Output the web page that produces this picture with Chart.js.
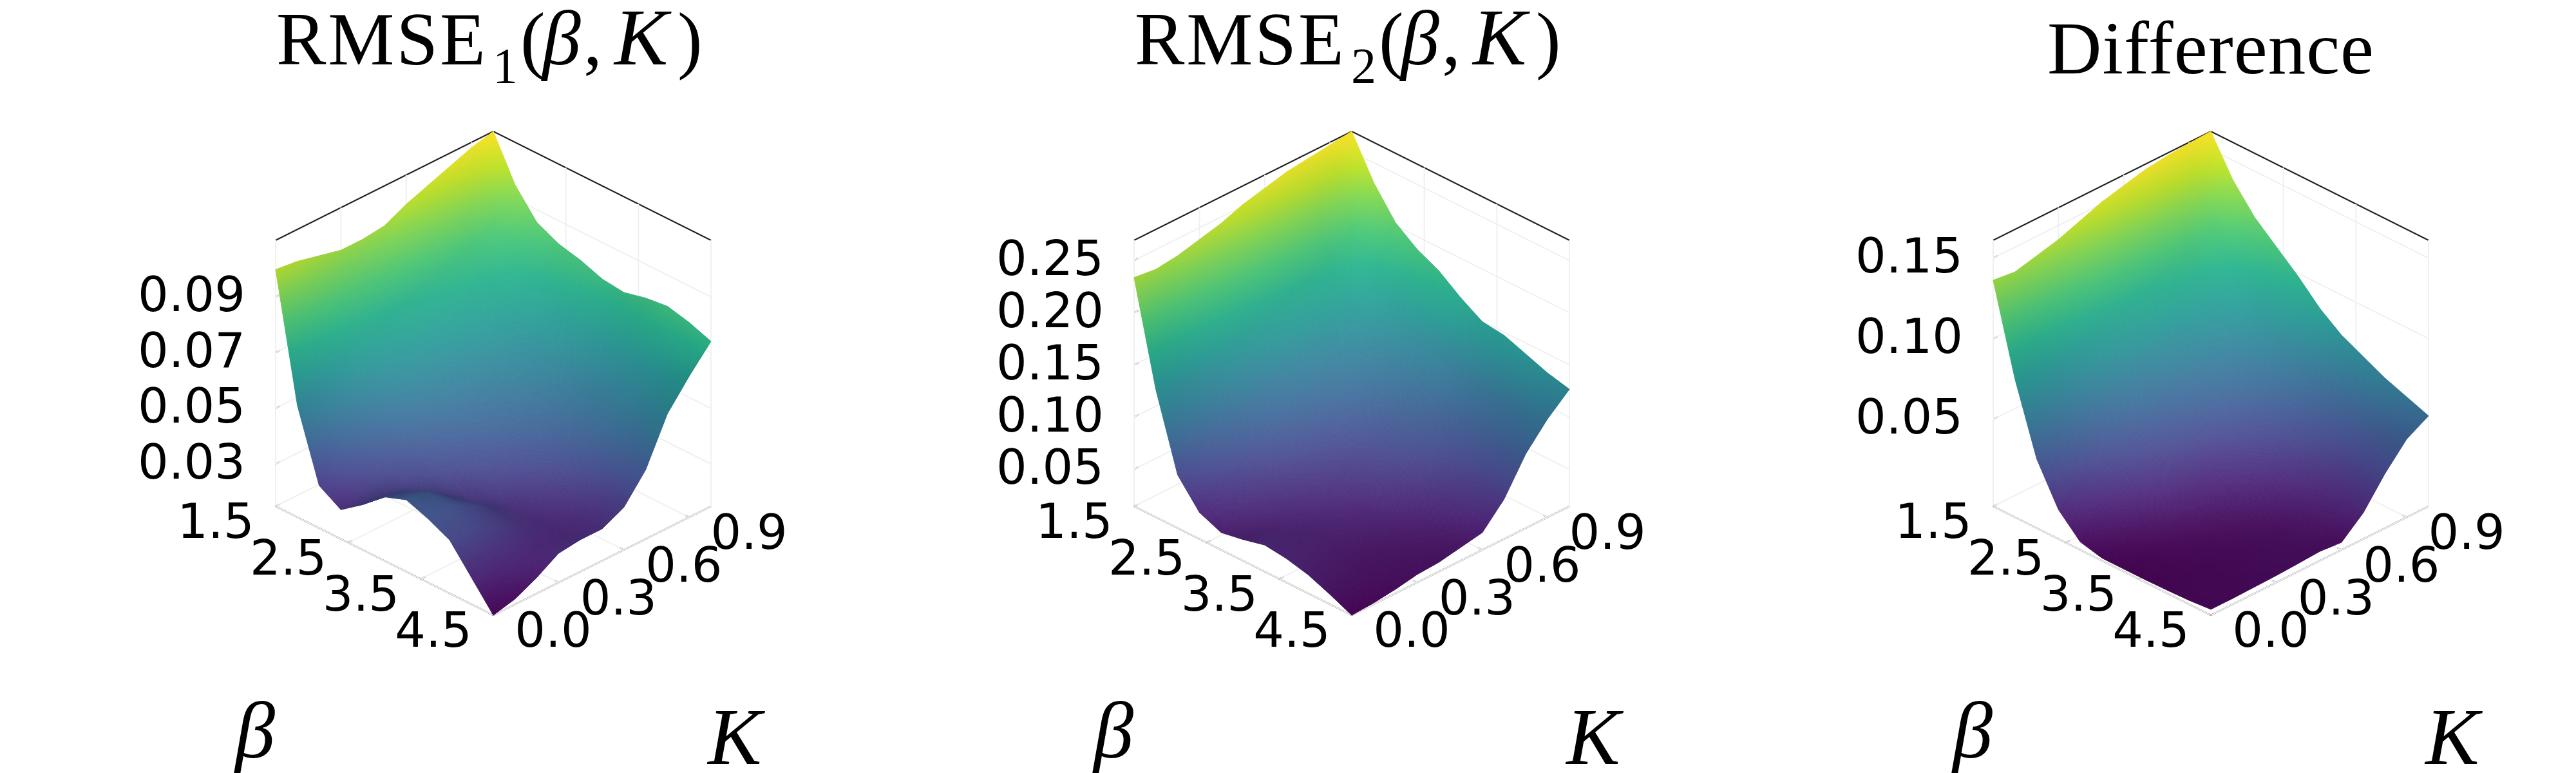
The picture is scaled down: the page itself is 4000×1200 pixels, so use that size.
<!doctype html>
<html lang="en">
<head>
<meta charset="utf-8">
<title>RMSE surfaces</title>
<script src="https://cdn.jsdelivr.net/npm/chart.js"></script>
<style>
  body { margin: 0; background: #fff; }
  canvas { position: absolute; top: 0; }
</style>
</head>
<body>
<canvas id="c0" width="1333" height="1200" style="left:0"></canvas>
<canvas id="c1" width="1333" height="1200" style="left:1333px"></canvas>
<canvas id="c2" width="1333" height="1200" style="left:2667px"></canvas>
<script>
const betaGrid = [1.5, 1.8, 2.1, 2.4, 2.7, 3.0, 3.3, 3.6, 3.9, 4.2, 4.5];
const kGrid = [0, 0.1, 0.2, 0.3, 0.4, 0.5, 0.6, 0.7, 0.8, 0.9, 1.0];
const betaTicks = [1.5, 2.5, 3.5, 4.5];
const kTicks = [0.0, 0.3, 0.6, 0.9];

// rows = beta, columns = K, height in percent of the z box for now
const rmse1 = [
  [89, 88, 86, 84, 84, 85, 89, 92, 95, 98, 100],
  [42, 47, 52, 56, 58, 60, 62, 65, 68, 73, 84],
  [16, 28, 36, 42, 46, 49, 52, 55, 58, 63, 74],
  [11, 17, 24, 31, 36, 40, 43, 47, 51, 57, 70],
  [17, 17, 18, 23, 28, 33, 37, 41, 46, 53, 68],
  [24, 22, 17, 18, 22, 27, 32, 37, 42, 50, 65],
  [27, 26, 20, 14, 17, 21, 27, 33, 39, 47, 64],
  [24, 24, 21, 16, 12, 16, 22, 30, 38, 46, 66],
  [20, 19, 17, 14, 11, 12, 18, 28, 38, 46, 67],
  [10, 10, 10, 10, 10, 11, 15, 26, 38, 48, 65],
  [0, 2, 6, 11, 12, 12, 16, 26, 43, 53, 62]
];
const rmse2 = [
  [86, 85, 86, 88, 90, 93, 95, 97, 98, 99, 100],
  [48, 46, 47, 50, 52, 55, 57, 60, 63, 68, 85],
  [20, 26, 30, 33, 36, 39, 42, 45, 48, 55, 74],
  [10, 15, 19, 23, 27, 30, 33, 37, 42, 50, 68],
  [6.5, 10, 13, 16, 19, 22, 26, 31, 37, 45, 64],
  [8, 8, 9, 11, 14, 17, 22, 28, 34, 41, 58],
  [10, 9, 8, 9, 10, 15, 20, 25, 30, 37, 53],
  [9, 8, 7, 7, 8, 11, 16, 21, 27, 35, 52],
  [7, 6, 5, 5, 6, 8, 12, 18, 26, 35, 49],
  [3.7, 3.5, 3.5, 4, 4.5, 6, 10, 16, 26, 36, 46],
  [0, 0.5, 1.5, 3, 3.5, 5, 6.5, 15, 28, 37, 44]
];
const difference = [
  [85, 84, 86, 88, 91, 94, 96, 98, 99, 99.6, 100],
  [52, 50, 50, 52, 55, 58, 61, 64, 68, 72, 86],
  [26, 29, 32, 35, 38, 41, 44, 47, 51, 58, 76],
  [11, 15, 19, 23, 27, 30, 33, 37, 42, 50, 69],
  [3, 6, 10, 14, 18, 21, 25, 30, 36, 44, 62],
  [1, 2, 4, 7, 10, 12, 17, 23, 30, 38, 54],
  [1, 1, 2, 3, 5, 8, 12, 18, 25, 33, 48],
  [1, 1, 1.5, 2, 3, 5, 8, 14, 21, 30, 44],
  [1.2, 1.5, 1.5, 2, 2.5, 3.5, 6, 11, 19, 28, 40],
  [1.5, 2, 2, 2.5, 3, 3.5, 5, 10, 19, 27, 37],
  [2.2, 2.2, 2.4, 2.6, 3, 3.5, 2.8, 9.8, 20.5, 29.4, 34]
];
const zTicks1 = ['0.03', '0.05', '0.07', '0.09'];
const zTicks2 = ['0.05', '0.10', '0.15', '0.20', '0.25'];
const zTicks3 = ['0.05', '0.10', '0.15'];
const zRange1 = [0.0148, 0.1103];
const zRange2 = [0.0146, 0.2693];
const zRange3 = [-0.004, 0.161];

const viridis = ['#440154', '#482475', '#414487', '#355f8d', '#2a788e', '#21918c', '#22a884', '#44bf70', '#7ad151', '#bddf26', '#fde725'];

// box on screen, px
const CX = 766, YL = 786, W = 338, R = 169, H = 413;

function boxXY(beta, K, t) {
  const b = (beta - 1.5) / 3;
  return { x: b + K - 1, y: t + (K - b) * R / H };
}

function hexRgb(h) {
  return [1, 3, 5].map(i => parseInt(h.substr(i, 2), 16));
}
function colormap(t) {
  t = Math.min(1, Math.max(0, t)) * (viridis.length - 1);
  const i = Math.min(viridis.length - 2, Math.floor(t));
  const a = hexRgb(viridis[i]), c = hexRgb(viridis[i + 1]);
  return a.map((v, n) => v + (c[n] - v) * (t - i));
}

// view space: x right, y up, d toward the viewer (30 deg elevation cube)
const Tb = [W, -R, 0.866 * W], Tk = [W, R, -0.866 * W], Tt = [0, H, 240];
function cross(a, c) {
  return [a[1] * c[2] - a[2] * c[1], a[2] * c[0] - a[0] * c[2], a[0] * c[1] - a[1] * c[0]];
}
function unit(v) {
  const l = Math.hypot(v[0], v[1], v[2]);
  return v.map(n => n / l);
}

class SurfaceController extends Chart.ScatterController {
  draw() {
    const meta = this.getMeta(), ctx = this._ctx, ds = this.getDataset();
    const nb = ds.rows, nk = ds.cols;
    const t = (i, j) => ds.data[i * nk + j].t;
    const el = (i, j) => meta.data[i * nk + j];
    const lo = ds.tMin, hi = ds.tMax;

    // vertex normals from the grid
    const normals = [];
    for (let i = 0; i < nb; i++) {
      for (let j = 0; j < nk; j++) {
        const i0 = Math.max(0, i - 1), i1 = Math.min(nb - 1, i + 1);
        const j0 = Math.max(0, j - 1), j1 = Math.min(nk - 1, j + 1);
        const db = (t(i1, j) - t(i0, j)) / ((i1 - i0) / (nb - 1));
        const dk = (t(i, j1) - t(i, j0)) / ((j1 - j0) / (nk - 1));
        const pb = Tb.map((v, n) => v + db * Tt[n]);
        const pk = Tk.map((v, n) => v + dk * Tt[n]);
        normals.push(unit(cross(pk, pb)));
      }
    }
    const mix = (a, c, d, e, u, v) => (a * (1 - u) + c * u) * (1 - v) + (d * (1 - u) + e * u) * v;
    const span = (p, q) => Math.ceil(Math.hypot(p.x - q.x, p.y - q.y) / 4);

    ctx.save();
    ctx.lineWidth = 1;
    ctx.lineJoin = 'round';
    // back corner (beta min, K max) first, front corner last
    for (let i = 0; i < nb - 1; i++) {
      for (let j = nk - 2; j >= 0; j--) {
        const A = el(i, j), B = el(i + 1, j), C = el(i, j + 1), D = el(i + 1, j + 1);
        const nA = normals[i * nk + j], nB = normals[(i + 1) * nk + j];
        const nC = normals[i * nk + j + 1], nD = normals[(i + 1) * nk + j + 1];
        const stepsU = Math.max(span(A, B), span(C, D)), stepsV = Math.max(span(A, C), span(B, D));
        for (let si = 0; si < stepsU; si++) {
          for (let sj = stepsV - 1; sj >= 0; sj--) {
            const pt = (u, v) => ({
              x: mix(A.x, B.x, C.x, D.x, u, v),
              y: mix(A.y, B.y, C.y, D.y, u, v)
            });
            const u0 = si / stepsU, u1 = (si + 1) / stepsU, v0 = sj / stepsV, v1 = (sj + 1) / stepsV;
            const um = (u0 + u1) / 2, vm = (v0 + v1) / 2;
            const tm = mix(t(i, j), t(i + 1, j), t(i, j + 1), t(i + 1, j + 1), um, vm);
            const n = unit([0, 1, 2].map(q => mix(nA[q], nB[q], nC[q], nD[q], um, vm)));
            const base = colormap((tm - lo) / (hi - lo));
            const mid = pt(um, vm), c = Math.abs(n[2]);
            const dx = (mid.x - (CX - 60)) / 300, dy = (mid.y - 600) / 280;
            const wash = 26 * Math.exp(-(dx * dx + dy * dy)) * c;
            const shade = 0.8 + 0.2 * c;
            const col = `rgb(${base.map(v => Math.min(255, v * shade + wash)).join(',')})`;
            const p = [pt(u0, v0), pt(u1, v0), pt(u1, v1), pt(u0, v1)];
            ctx.beginPath();
            ctx.moveTo(p[0].x, p[0].y);
            for (let q = 1; q < 4; q++) ctx.lineTo(p[q].x, p[q].y);
            ctx.closePath();
            ctx.fillStyle = col;
            ctx.strokeStyle = col;
            ctx.fill();
            ctx.stroke();
          }
        }
      }
    }
    ctx.restore();
  }
}
SurfaceController.id = 'surface';
SurfaceController.defaults = {};
Chart.register(SurfaceController);

function lineSet(points, color, width) {
  // the dash keeps Chart.js off its fast path, which loses vertical two-point lines
  return { type: 'scatter', showLine: true, data: points, borderColor: color, borderWidth: width, borderDash: [5000, 1], pointRadius: 0, fill: false };
}

function frameSets(zr, zTicks) {
  const sets = [];
  const tOf = z => (z - zr[0]) / (zr[1] - zr[0]);
  const grid = '#f0f0f0', ink = '#222222', tick = 0.02;
  const seg = (a, c, col, w) => sets.push(lineSet([boxXY(...a), boxXY(...c)], col, w));
  betaTicks.forEach(v => {
    seg([v, 0, 0], [v, 1, 0], grid, 2);
    seg([v, 1, 0], [v, 1, 1], grid, 2);
    seg([v, 0, 0], [v, tick, 0], ink, 2);
  });
  kTicks.forEach(v => {
    seg([1.5, v, 0], [4.5, v, 0], grid, 2);
    seg([1.5, v, 0], [1.5, v, 1], grid, 2);
    seg([4.5, v, 0], [4.5 - 3 * tick, v, 0], ink, 2);
  });
  zTicks.forEach(s => {
    const t = tOf(parseFloat(s));
    seg([1.5, 0, t], [1.5, 1, t], grid, 2);
    seg([1.5, 1, t], [4.5, 1, t], grid, 2);
    seg([1.5, 0, t], [1.5, tick, t], ink, 2);
  });
  seg([1.5, 0, 1], [1.5, 1, 1], ink, 2);
  seg([1.5, 1, 1], [4.5, 1, 1], ink, 2);
  seg([1.5, 0, 0], [1.5, 0, 1], ink, 2);
  seg([4.5, 1, 0], [4.5, 1, 1], ink, 2);
  seg([1.5, 0, 0], [4.5, 0, 0], ink, 2);
  seg([4.5, 0, 0], [4.5, 1, 0], ink, 2);
  return sets;
}

const labelPlugin = {
  id: 'labels',
  afterDatasetsDraw(chart, args, opts) {
    const ctx = chart.ctx, sx = chart.scales.x, sy = chart.scales.y;
    const px = p => ({ x: sx.getPixelForValue(p.x), y: sy.getPixelForValue(p.y) });
    ctx.save();
    ctx.fillStyle = '#000';
    ctx.textBaseline = 'middle';
    ctx.font = "75px 'DejaVu Sans'";
    ctx.textAlign = 'right';
    opts.zTicks.forEach(s => {
      const p = px(boxXY(1.5, 0, (parseFloat(s) - opts.zr[0]) / (opts.zr[1] - opts.zr[0])));
      ctx.fillText(s, p.x - 47, p.y + 3);
    });
    ctx.textAlign = 'center';
    betaTicks.forEach(v => {
      const p = px(boxXY(v, 0, 0));
      ctx.fillText(v.toFixed(1), p.x - 93, p.y + 30);
    });
    kTicks.forEach(v => {
      const p = px(boxXY(4.5, v, 0));
      ctx.fillText(v.toFixed(1), p.x + 93, p.y + 30);
    });
    ctx.textBaseline = 'alphabetic';
    ctx.font = "italic 125px 'Liberation Serif'";
    ctx.fillText('β', 396, 1176);
    ctx.fillText('K', 1141, 1186);

    // title pieces: [text, style, size, start x, drop]
    ctx.textAlign = 'left';
    opts.title.forEach(s => {
      ctx.font = `${s[1]} ${s[2]}px 'Liberation Serif'`;
      ctx.letterSpacing = s[5] || '0px';
      ctx.fillText(s[0], s[3], opts.titleY + s[4]);
    });
    ctx.restore();
  }
};

function rmseTitle(n) {
  return [['RMSE', 'normal', 116, 429, 0, '3px'], [n, 'normal', 78, 765, 28], ['(', 'normal', 116, 808, 0], ['β', 'italic', 120, 842, 0],
    [',', 'normal', 116, 906, 0], ['K', 'italic', 125, 954, 0], [')', 'normal', 116, 1052, 0]];
}

function makeChart(id, grid, zr, zTicks, title, titleY) {
  const nb = betaGrid.length, nk = kGrid.length;
  const points = [];
  let tMin = Infinity, tMax = -Infinity;
  betaGrid.forEach((b, i) => kGrid.forEach((k, j) => {
    const t = grid[i][j] / 100;
    tMin = Math.min(tMin, t);
    tMax = Math.max(tMax, t);
    points.push(Object.assign(boxXY(b, k, t), { t }));
  }));
  new Chart(document.getElementById(id), {
    type: 'scatter',
    data: {
      datasets: [
        { type: 'surface', data: points, rows: nb, cols: nk, tMin, tMax, pointRadius: 0 },
        ...frameSets(zr, zTicks)
      ]
    },
    options: {
      responsive: false,
      animation: false,
      devicePixelRatio: 1,
      layout: { padding: 0 },
      scales: {
        x: { type: 'linear', display: false, min: -CX / W, max: (1333 - CX) / W },
        y: { type: 'linear', display: false, min: (YL - 1200) / H, max: YL / H }
      },
      plugins: {
        legend: { display: false },
        tooltip: { enabled: false },
        labels: { zr, zTicks, title, titleY }
      }
    },
    plugins: [labelPlugin]
  });
}

makeChart('c0', rmse1, zRange1, zTicks1, rmseTitle('1'), 100);
makeChart('c1', rmse2, zRange2, zTicks2, rmseTitle('2'), 100);
makeChart('c2', difference, zRange3, zTicks3, [['Difference', 'normal', 117, 512, 0, '1px']], 114);
</script>
</body>
</html>
